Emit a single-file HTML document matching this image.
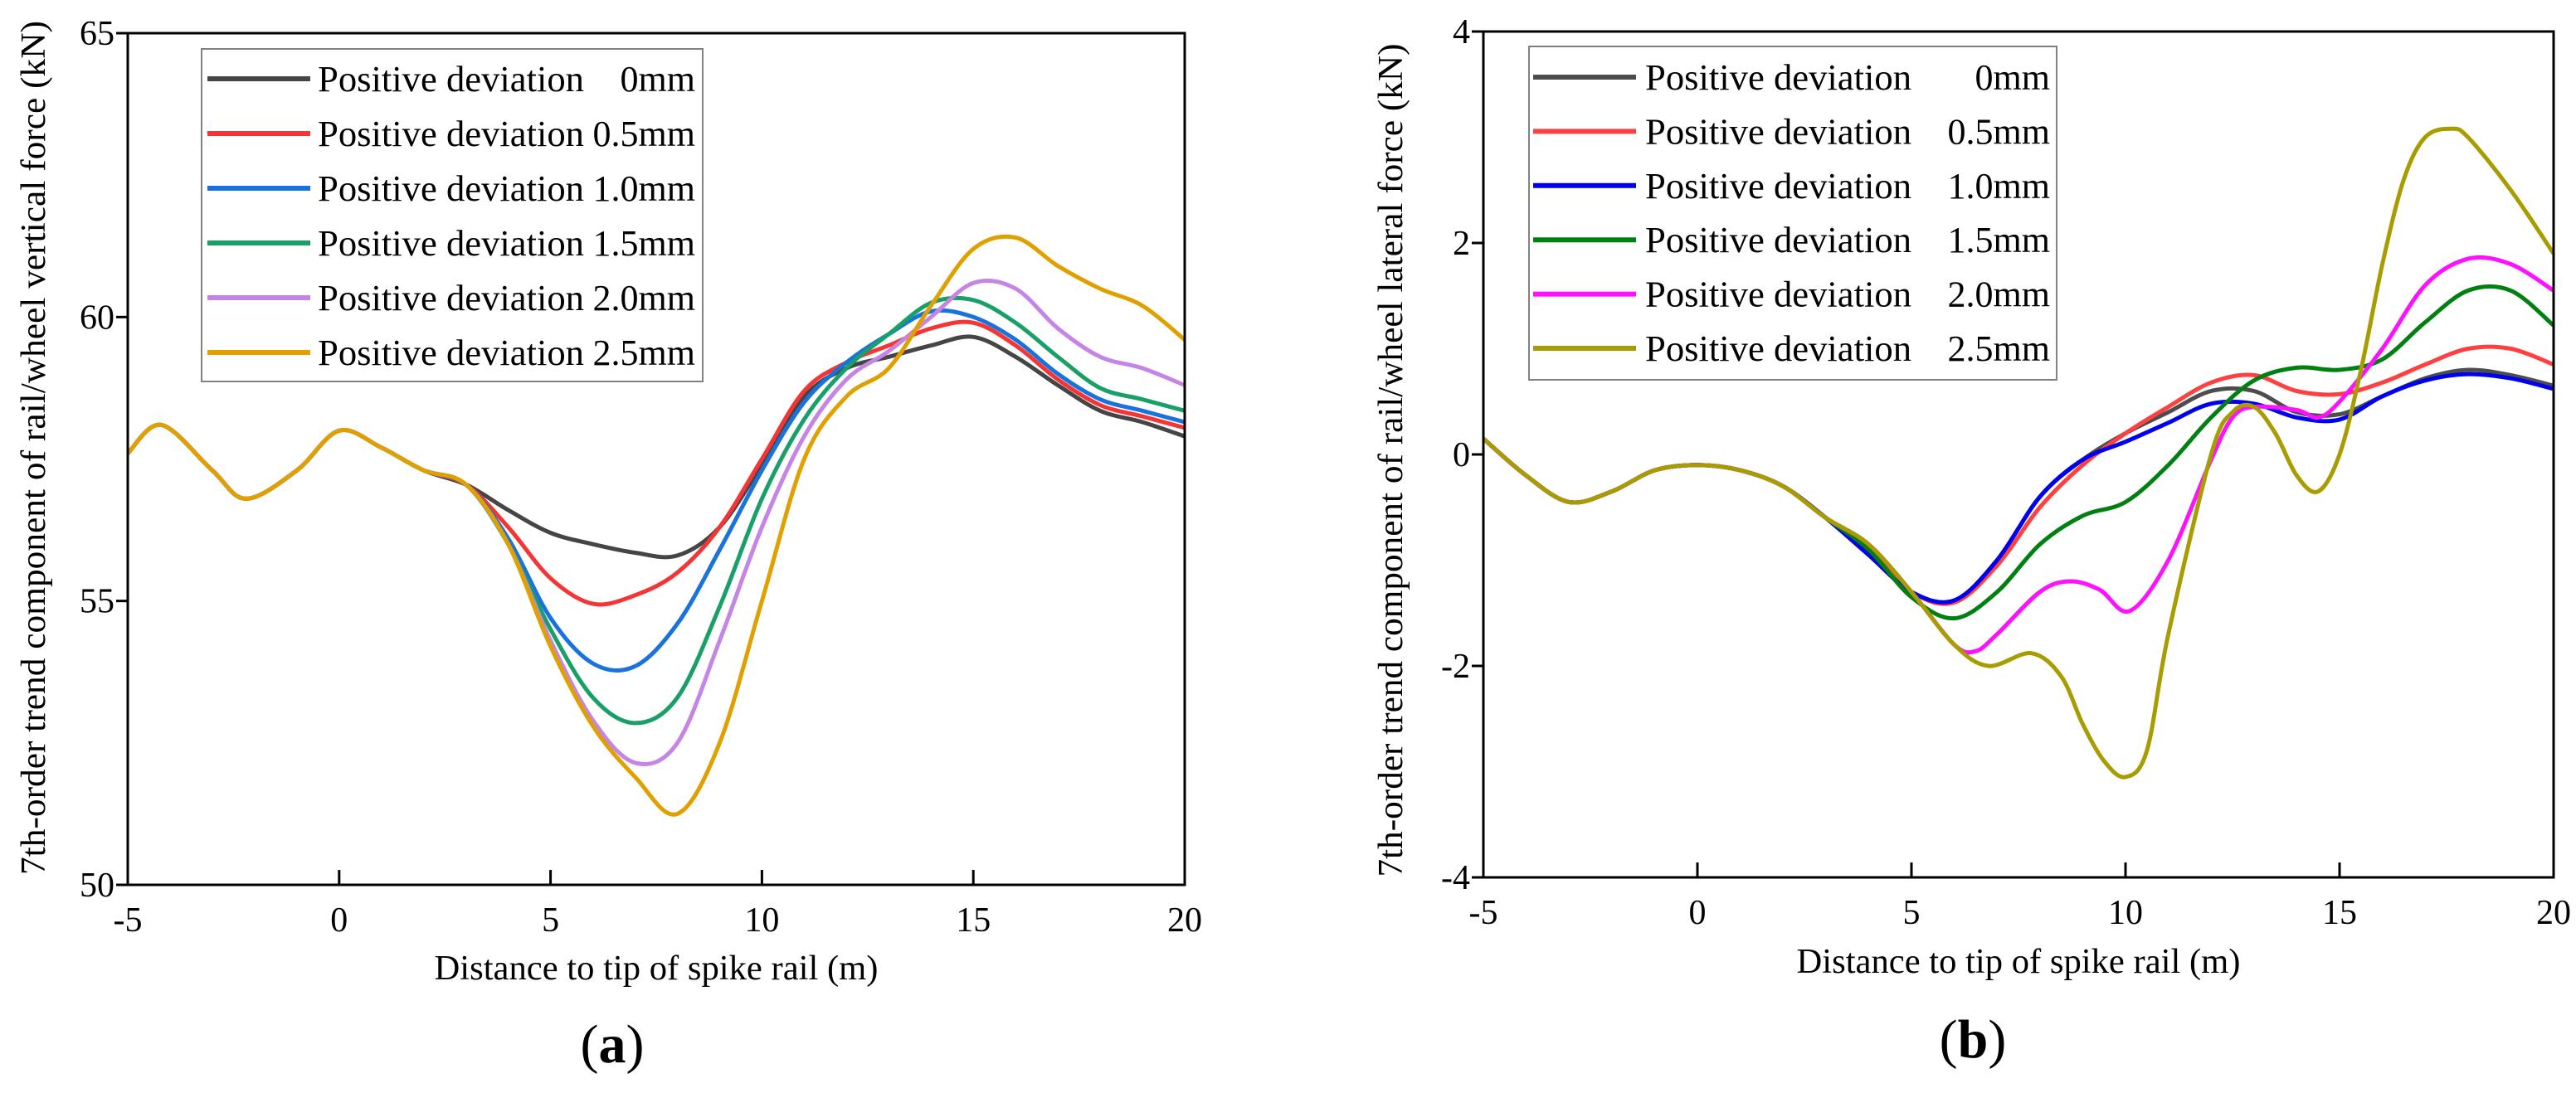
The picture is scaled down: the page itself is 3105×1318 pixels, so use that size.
<!DOCTYPE html>
<html><head><meta charset="utf-8"><style>
html,body{margin:0;padding:0;background:#fff}
svg{display:block}
text{font-family:"Liberation Serif",serif;fill:#000}
</style></head><body>
<svg id="fig" width="3105" height="1318" viewBox="0 0 3105 1318" xmlns="http://www.w3.org/2000/svg"></svg>
<script>
// ---------- data ----------
const xTicks = [-5,0,5,10,15,20];
const yTicksA = [50,55,60,65];
const yTicksB = [-4,-2,0,2,4];
const legendLabels = ["0mm","0.5mm","1.0mm","1.5mm","2.0mm","2.5mm"];
const commonAX = [-5,-4.2,-3,-2.2,-1,0,1,2,3];
const commonAY = [57.6,58.1,57.3,56.8,57.3,58.0,57.7,57.3,57.05];
const tailAX = [4,5,6,7,8,9,10,11,12,13,14,15,16,17,18,19,20];
const a0 = [56.6,56.2,56.0,55.85,55.8,56.3,57.4,58.6,59.1,59.3,59.5,59.65,59.3,58.8,58.35,58.15,57.9];
const a05 = [56.3,55.4,54.95,55.1,55.5,56.3,57.5,58.7,59.2,59.5,59.8,59.9,59.5,58.9,58.45,58.25,58.05];
const a10 = [56.1,54.7,53.9,53.85,54.6,55.9,57.3,58.5,59.2,59.7,60.1,60.0,59.6,59.0,58.55,58.35,58.15];
const a15 = [56.0,54.5,53.3,52.85,53.3,54.9,56.8,58.2,59.1,59.7,60.25,60.3,59.9,59.3,58.75,58.55,58.35];
const a20 = [56.0,54.3,52.9,52.15,52.5,54.3,56.3,57.9,58.9,59.4,60.0,60.6,60.5,59.8,59.3,59.1,58.8];
const a25 = [56.0,54.2,52.8,51.9,51.25,52.5,55.0,57.5,58.6,59.1,60.2,61.2,61.4,60.9,60.5,60.2,59.6];
const commonBX = [-5,-4,-3,-2,-1,0,1,2,3];
const commonBY = [0.15,-0.2,-0.45,-0.35,-0.15,-0.1,-0.15,-0.3,-0.6];
const tailBX = [4,5,6,7,8,9,10,11,12,13,14,15,16,17,18,19,20];
const b0 = [-0.95,-1.3,-1.38,-1.0,-0.4,-0.05,0.2,0.4,0.6,0.6,0.4,0.38,0.55,0.72,0.8,0.75,0.65];
const b05 = [-0.9,-1.3,-1.4,-1.05,-0.5,-0.1,0.2,0.45,0.68,0.75,0.6,0.57,0.68,0.85,1.0,1.0,0.85];
const b10 = [-0.95,-1.3,-1.38,-1.0,-0.4,-0.05,0.12,0.3,0.48,0.48,0.35,0.33,0.55,0.7,0.76,0.72,0.62];
const b15 = [-0.9,-1.35,-1.55,-1.3,-0.85,-0.58,-0.45,-0.1,0.35,0.7,0.82,0.8,0.9,1.25,1.55,1.55,1.22];
const b20X = [4,5,6,6.5,7,8,8.7,9.4,10.1,11,12,12.5,13,14,14.5,15,16,17,18,19,20];
const b20 = [-0.85,-1.3,-1.8,-1.86,-1.7,-1.3,-1.2,-1.28,-1.48,-1.0,-0.05,0.35,0.45,0.42,0.35,0.5,1.0,1.6,1.85,1.8,1.55];
const b25X = [4,5,6,6.8,7.8,8.5,9,9.5,10,10.5,11,12,12.5,13,13.5,14,14.5,15,15.5,16,16.5,17,17.6,18,19,20];
const b25 = [-0.85,-1.3,-1.8,-2.0,-1.88,-2.1,-2.55,-2.9,-3.05,-2.8,-1.7,0.0,0.4,0.45,0.2,-0.2,-0.35,0.0,0.8,1.8,2.6,3.0,3.08,3.0,2.5,1.9];

const NS="http://www.w3.org/2000/svg";
const svg=document.getElementById('fig');
function mk(tag,attrs,parent){const e=document.createElementNS(NS,tag);for(const k in attrs)e.setAttribute(k,attrs[k]);(parent||svg).appendChild(e);return e;}
function smooth(pts){let d=`M${pts[0][0].toFixed(1)},${pts[0][1].toFixed(1)}`;
 for(let i=0;i<pts.length-1;i++){const p0=pts[Math.max(0,i-1)],p1=pts[i],p2=pts[i+1],p3=pts[Math.min(pts.length-1,i+2)];
  const c1=[p1[0]+(p2[0]-p0[0])/6,p1[1]+(p2[1]-p0[1])/6],c2=[p2[0]-(p3[0]-p1[0])/6,p2[1]-(p3[1]-p1[1])/6];
  d+=`C${c1[0].toFixed(1)},${c1[1].toFixed(1)} ${c2[0].toFixed(1)},${c2[1].toFixed(1)} ${p2[0].toFixed(1)},${p2[1].toFixed(1)}`;}
 return d;}

function panel(cfg){
 const g=mk('g',{});
 
 
 const sx=v=>cfg.L+(v-(-5))/25*(cfg.R-cfg.L);
 const sy=v=>cfg.B-(v-cfg.ymin)/(cfg.ymax-cfg.ymin)*(cfg.B-cfg.T);
 const clipId='clip'+cfg.id;
 const cp=mk('clipPath',{id:clipId},g);mk('rect',{x:cfg.L,y:cfg.T,width:cfg.R-cfg.L,height:cfg.B-cfg.T},cp);
 cfg.series.forEach((s,i)=>{
  const pts=s.x.map((x,j)=>[sx(x),sy(s.y[j])]);
  const p=mk('path',{d:smooth(pts),fill:'none',stroke:cfg.colors[i],'stroke-width':5,'stroke-linejoin':'round','clip-path':`url(#${clipId})`},g);
  
  
 });
 const fr=mk('rect',{x:cfg.L,y:cfg.T,width:cfg.R-cfg.L,height:cfg.B-cfg.T,fill:'none',stroke:'#000','stroke-width':3},g);
 
 
 xTicks.forEach(t=>{
  const x=sx(t);
  mk('line',{x1:x,x2:x,y1:cfg.B,y2:cfg.B-18,stroke:'#000','stroke-width':3},g);
  const tx=mk('text',{x:x,y:cfg.B+56,'font-size':42,'text-anchor':'middle'},g);tx.textContent=t;
  
  
 });
 cfg.yTicks.forEach(t=>{
  const y=sy(t);
  mk('line',{x1:cfg.L,x2:cfg.L-14,y1:y,y2:y,stroke:'#000','stroke-width':3},g);
  const tx=mk('text',{x:cfg.L-16,y:y+14,'font-size':42,'text-anchor':'end'},g);tx.textContent=t;
  
  
 });
 const xt=mk('text',{x:(cfg.L+cfg.R)/2,y:cfg.xtY,'font-size':42,'text-anchor':'middle',textLength:535,lengthAdjust:'spacingAndGlyphs'},g);
 xt.textContent='Distance to tip of spike rail (m)';
 
 
 const yt=mk('text',{x:0,y:0,'font-size':42,'text-anchor':'middle',textLength:cfg.ytLen,lengthAdjust:'spacingAndGlyphs',transform:`translate(${cfg.ytX},${cfg.ytY}) rotate(-90)`},g);
 yt.textContent=cfg.ytitle;
 
 
 const cap=mk('text',{x:cfg.capX,y:cfg.capY,'font-size':66,'text-anchor':'middle'},g);
 cap.innerHTML='(<tspan font-weight="bold">'+cfg.cap+'</tspan>)';
 
 
 const lg=mk('g',{},g);
 
 
 mk('rect',{x:cfg.lg.x,y:cfg.lg.y,width:cfg.lg.w,height:cfg.lg.h,fill:'#fff',stroke:'#808080','stroke-width':2},lg);
 legendLabels.forEach((l,i)=>{
  const y=cfg.lg.r0+i*cfg.lg.dy;
  const e=mk('g',{},lg);
  
  
  mk('line',{x1:cfg.lg.l1,x2:cfg.lg.l2,y1:y,y2:y,stroke:cfg.colors[i],'stroke-width':6},e);
  const t=mk('text',{x:cfg.lg.tx,y:y+15,'font-size':44,textLength:321,lengthAdjust:'spacingAndGlyphs'},e);t.textContent='Positive deviation';
  const v=mk('text',{x:cfg.lg.vx,y:y+15,'font-size':44,'text-anchor':'end'},e);v.textContent=l;
 });
}
function join(cx,cy,tx,ty){return {x:cx.concat(tx),y:cy.concat(ty)};}
panel({id:'a',name:'panel-a-vertical-force',L:154,R:1428,T:40,B:1067,ymin:50,ymax:65,yTicks:yTicksA,
 colors:['#454545','#f53535','#1a73dd','#18a068','#c585e5','#e0a000'],
 series:[join(commonAX,commonAY,tailAX,a0),join(commonAX,commonAY,tailAX,a05),join(commonAX,commonAY,tailAX,a10),join(commonAX,commonAY,tailAX,a15),join(commonAX,commonAY,tailAX,a20),join(commonAX,commonAY,tailAX,a25)],
 xtY:1181,ytX:54,ytY:540,ytLen:1030,ytitle:'7th-order trend component of rail/wheel vertical force (kN)',capX:738,capY:1281,cap:'a',
 lg:{x:243,y:59,w:604,h:401,r0:95,dy:66,l1:250,l2:374,tx:383,vx:838}});
panel({id:'b',name:'panel-b-lateral-force',L:1788,R:3078,T:38,B:1058,ymin:-4,ymax:4,yTicks:yTicksB,
 colors:['#4d4d4d','#ff4040','#0000f0','#008010','#ff10ff','#a89c00'],
 series:[join(commonBX,commonBY,tailBX,b0),join(commonBX,commonBY,tailBX,b05),join(commonBX,commonBY,tailBX,b10),join(commonBX,commonBY,tailBX,b15),join(commonBX,commonBY,b20X,b20),join(commonBX,commonBY,b25X,b25)],
 xtY:1173,ytX:1690,ytY:555,ytLen:1005,ytitle:'7th-order trend component of rail/wheel lateral force (kN)',capX:2378,capY:1275,cap:'b',
 lg:{x:1843,y:56,w:636,h:402,r0:93,dy:65.4,l1:1848,l2:1972,tx:1983,vx:2471}});
</script>
</body></html>
